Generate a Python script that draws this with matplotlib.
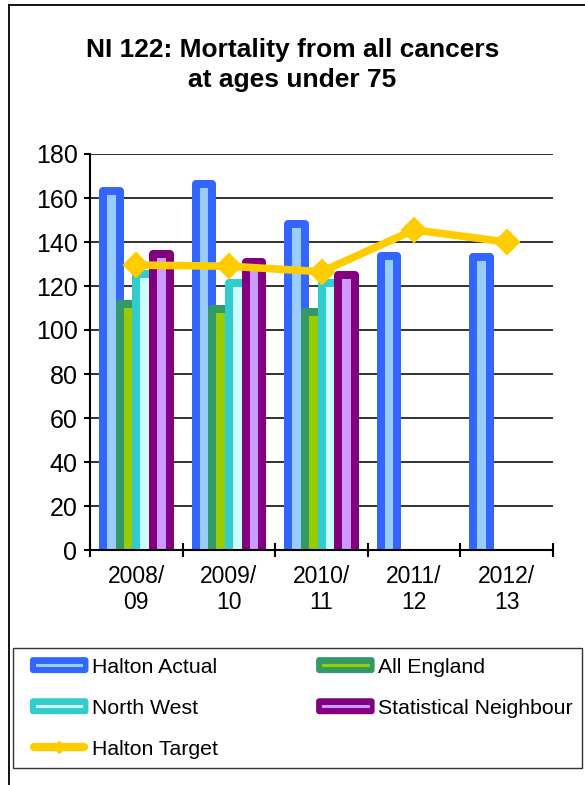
import matplotlib
matplotlib.use("Agg")
import matplotlib.pyplot as plt
import numpy as np
from matplotlib.lines import Line2D
from matplotlib.patches import FancyBboxPatch
from matplotlib.legend_handler import HandlerBase

plt.rcParams['font.family'] = ['Liberation Sans', 'DejaVu Sans']

# ---- data ----
years = ["2008/\n09", "2009/\n10", "2010/\n11", "2011/\n12", "2012/\n13"]
halton_actual = [163, 166.5, 148, 133.5, 133]
all_england = [112, 109.5, 108, np.nan, np.nan]
north_west = [125.5, 121.5, 121.5, np.nan, np.nan]
stat_neighbour = [134.5, 131, 125, np.nan, np.nan]
halton_target = [129.5, 129, 126.5, 145.5, 140]

series = [
    ("Halton Actual", halton_actual, "#3366FF", "#99CCFF"),
    ("All England", all_england, "#339966", "#99CC00"),
    ("North West", north_west, "#33CCCC", "#CCFFFF"),
    ("Statistical Neighbour", stat_neighbour, "#800080", "#CC99FF"),
]
target_color = "#FFCC00"

W, H, DPI = 585, 785, 100
fig = plt.figure(figsize=(W / DPI, H / DPI), dpi=DPI)
ax = fig.add_axes([90 / W, 1 - 550 / H, (553 - 90) / W, (550 - 154) / H])

x = np.arange(len(years))
step = 0.18
edge_pt = 8 * 72 / DPI
base = -3.0  # start bars below the axis so their thick bottom edge is hidden
for i, (name, vals, ec, fc) in enumerate(series):
    offs = (i - 1.5) * step
    v = np.array(vals, dtype=float)
    ax.bar(x + offs, v - base, bottom=base, width=step, color=fc, edgecolor=ec,
           linewidth=edge_pt, joinstyle='round', zorder=2 + i)

ax.plot(x, halton_target, color=target_color, lw=5.5, marker='D',
        markersize=12, markeredgewidth=1.5, markeredgecolor=target_color,
        zorder=10, solid_joinstyle='round')

ax.set_xlim(-0.5, len(years) - 0.5)
ax.set_ylim(0, 180)
ax.set_yticks(np.arange(0, 181, 20))
ax.yaxis.grid(True, color='#222222', lw=1.3)
ax.set_axisbelow(True)
ax.set_xticks(x)
ax.set_xticklabels(years, fontsize=16.5, linespacing=1.15)
ax.set_xticks(np.arange(-0.5, len(years), 1), minor=True)
ax.tick_params(axis='x', which='major', length=0, pad=11)
ax.tick_params(axis='x', which='minor', direction='inout', length=10, width=1.5)
ax.tick_params(axis='y', direction='out', length=4, width=1.5, labelsize=18, pad=5)
for s in ['top', 'right']:
    ax.spines[s].set_visible(False)
for s in ['left', 'bottom']:
    ax.spines[s].set_linewidth(1.5)
    ax.spines[s].set_zorder(12)

fig.text(0.5, 1 - 50 / H, "NI 122: Mortality from all cancers", ha='center',
         va='center', fontsize=19, fontweight='bold')
fig.text(0.5, 1 - 80 / H, "at ages under 75", ha='center',
         va='center', fontsize=19, fontweight='bold')

# outer frame: top and left edges
fig.add_artist(Line2D([9 / W, 1], [1 - 4.5 / H, 1 - 4.5 / H], color='black', lw=1.3,
                      transform=fig.transFigure))
fig.add_artist(Line2D([9 / W, 9 / W], [0, 1 - 4.5 / H], color='black', lw=1.3,
                      transform=fig.transFigure))

INSET = 5.3  # points of blank space left of each legend key


class BarHandler(HandlerBase):
    def __init__(self, edge, fill):
        super().__init__()
        self.edge, self.fill = edge, fill

    def create_artists(self, legend, orig_handle, xdescent, ydescent, width,
                       height, fontsize, trans):
        hh = 11.5
        yc = height / 2 - ydescent
        x0 = -xdescent + INSET
        w = width - INSET
        box = FancyBboxPatch((x0, yc - hh / 2), w, hh,
                             boxstyle="round,pad=0,rounding_size=2.5",
                             fc=self.edge, ec='none', transform=trans)
        inner = Line2D([x0 + 0.12 * w, x0 + 0.88 * w], [yc, yc],
                       color=self.fill, lw=2.2, transform=trans)
        return [box, inner]


class TargetHandler(HandlerBase):
    def create_artists(self, legend, orig_handle, xdescent, ydescent, width,
                       height, fontsize, trans):
        yc = height / 2 - ydescent
        x0 = -xdescent + INSET
        w = width - INSET
        ln = Line2D([x0 + 3, x0 + w - 3], [yc, yc], color=target_color,
                    lw=6, solid_capstyle='round', transform=trans)
        mk = Line2D([x0 + w / 2], [yc], marker='D', markersize=6,
                    color=target_color, transform=trans)
        return [ln, mk]


handles = [Line2D([], []) for _ in range(5)]
labels = ["Halton Actual", "North West", "Halton Target",
          "All England", "Statistical Neighbour"]
hmap = {
    handles[0]: BarHandler("#3366FF", "#99CCFF"),
    handles[1]: BarHandler("#33CCCC", "#CCFFFF"),
    handles[2]: TargetHandler(),
    handles[3]: BarHandler("#339966", "#99CC00"),
    handles[4]: BarHandler("#800080", "#CC99FF"),
}
leg = fig.legend(handles, labels, handler_map=hmap, ncol=2,
                 loc='upper left',
                 bbox_to_anchor=(13 / W, 1 - 766 / H, (582 - 13) / W, (766 - 648) / H),
                 mode='expand', fontsize=15.3, handlelength=3.1, handletextpad=0.15,
                 labelspacing=1.04, borderaxespad=0, frameon=True, fancybox=False,
                 edgecolor='black', borderpad=0.45)
leg.get_frame().set_linewidth(1.0)

fig.savefig("out.png", dpi=DPI)
